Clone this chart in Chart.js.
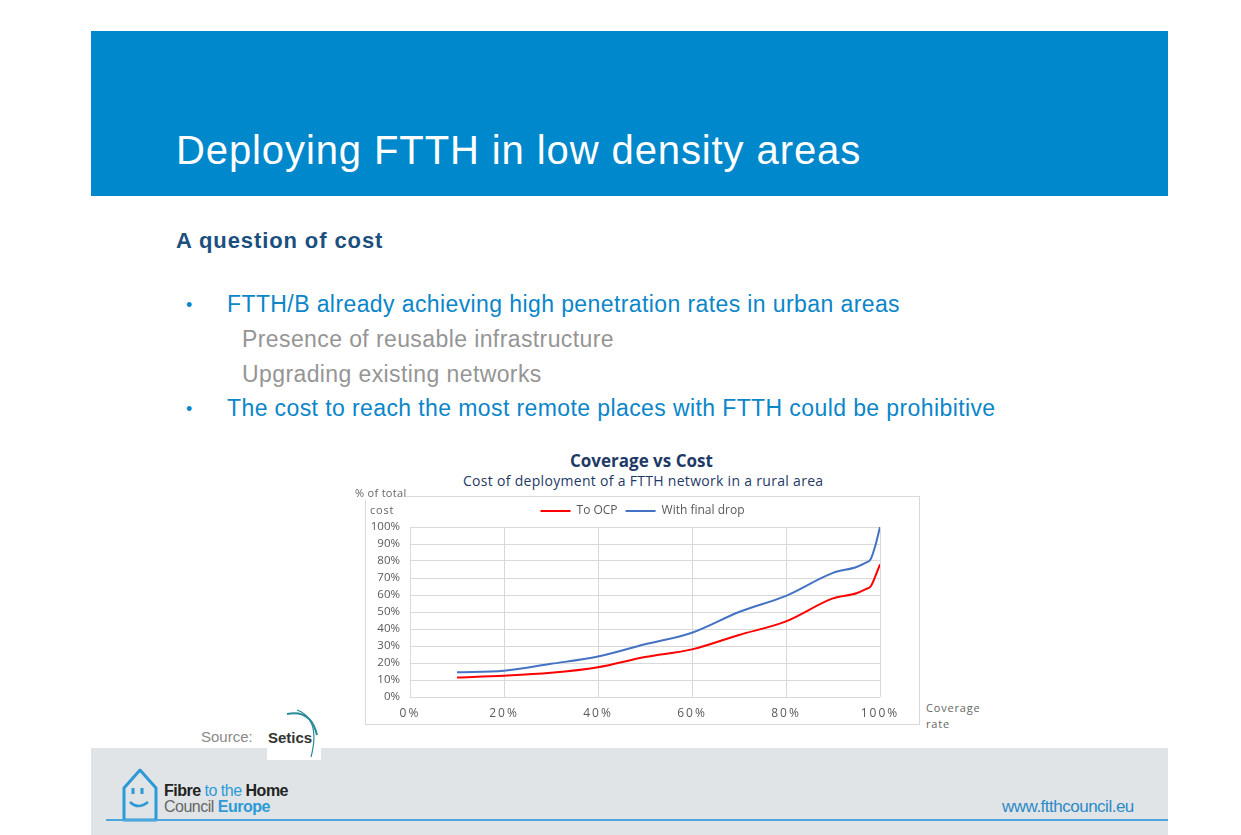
<!DOCTYPE html>
<html>
<head>
<meta charset="utf-8">
<script src="https://cdn.jsdelivr.net/npm/chart.js@4"></script>
<style>
  body { margin: 0; width: 1241px; height: 835px; background: #fff; position: relative; overflow: hidden; font-family: "Liberation Sans", Arial, sans-serif; }
  .abs { position: absolute; white-space: nowrap; }
  #header { left: 91px; top: 31px; width: 1077px; height: 165px; background: #0088cc; }
  #title { left: 176px; top: 128px; font-size: 40px; letter-spacing: 0.9px; color: #fff; }
  #sub { left: 176px; top: 228px; font-size: 22px; letter-spacing: 0.9px; font-weight: bold; color: #1b4f7e; }
  .b1 { font-size: 23px; letter-spacing: 0.4px; color: #0a86c9; }
  .b2 { font-size: 23px; letter-spacing: 0.4px; color: #959595; }
  .dot { font-size: 18px; color: #0a86c9; }
  .ct { font-family: "Open Sans", sans-serif; color: #1f3a66; }
  .ax { font-family: "Open Sans", sans-serif; font-size: 11px; color: #666; letter-spacing: 0.8px; }
  #frame { left: 365px; top: 496px; width: 553px; height: 227px; border: 1px solid #d9d9d9; }
  #wrap { left: 366px; top: 497px; width: 553px; height: 226px; }
  #footer { left: 91px; top: 748px; width: 1077px; height: 87px; background: #e1e4e7; }
</style>
</head>
<body>
<div id="header" class="abs"></div>
<div id="title" class="abs">Deploying FTTH in low density areas</div>
<div id="sub" class="abs">A question of cost</div>

<div class="abs dot" style="left:186px;top:295px">•</div>
<div class="abs b1" style="left:227px;top:291px">FTTH/B already achieving high penetration rates in urban areas</div>
<div class="abs b2" style="left:242px;top:326px">Presence of reusable infrastructure</div>
<div class="abs b2" style="left:242px;top:361px">Upgrading existing networks</div>
<div class="abs dot" style="left:186px;top:399px">•</div>
<div class="abs b1" style="left:227px;top:395px">The cost to reach the most remote places with FTTH could be prohibitive</div>

<div class="abs ct" style="left:570px;top:449px;font-size:17px;font-weight:bold">Coverage vs Cost</div>
<div class="abs ct" style="left:463px;top:471px;font-size:14px;letter-spacing:0.3px">Cost of deployment of a FTTH network in a rural area</div>

<div id="frame" class="abs"></div>
<div id="wrap" class="abs"><canvas id="chart"></canvas></div>
<div class="abs ax" style="left:355px;top:485px;background:#fff;letter-spacing:0.3px">% of total</div>
<div class="abs ax" style="left:370px;top:502px">cost</div>
<div class="abs ax" style="left:926px;top:700px">Coverage</div>
<div class="abs ax" style="left:926px;top:716px">rate</div>

<div id="footer" class="abs"></div>
<div class="abs" style="left:201px;top:728px;font-size:15px;color:#8a8a8a">Source:</div>
<div class="abs" style="left:267px;top:705px;width:54px;height:55px;background:#fff"></div>
<svg class="abs" style="left:267px;top:705px" width="54" height="55">
  <path d="M20 9 Q44 4 50 30" stroke="#2a8a9a" stroke-width="2" fill="none"/>
  <path d="M30 5 Q54 14 44 52" stroke="#2a8a9a" stroke-width="1.2" fill="none"/>
  <text x="1" y="38" font-family="Liberation Sans, Arial" font-weight="bold" font-size="15" fill="#333">Setics</text>
</svg>

<svg class="abs" style="left:118px;top:764px" width="50" height="60">
  <path d="M6 56 L6 24 L22 6 L38 24 L38 56 Z" stroke="#2c9ad6" stroke-width="3" fill="none" stroke-linejoin="round"/>
  <path d="M15 24 L15 30 M24 24 L24 30" stroke="#2c9ad6" stroke-width="3"/>
  <path d="M12 38 Q20 46 30 38" stroke="#2c9ad6" stroke-width="2.5" fill="none"/>
</svg>
<div class="abs" style="left:164px;top:782px;font-size:16px;letter-spacing:-0.5px"><b style="color:#222">Fibre</b><span style="color:#2c9ad6"> to the </span><b style="color:#222">Home</b></div>
<div class="abs" style="left:164px;top:798px;font-size:16px;letter-spacing:-0.5px"><span style="color:#666">Council </span><b style="color:#2c9ad6">Europe</b></div>
<div class="abs" style="left:1002px;top:797px;font-size:17px;color:#2c8ac6;letter-spacing:-0.5px">www.ftthcouncil.eu</div>
<div class="abs" style="left:106px;top:819px;width:1062px;height:2px;background:#4aa6dc"></div>

<script>
// coverage rate (%) and share of total cost (%)
const coverage = [10, 20, 30, 40, 50, 60, 70, 80, 90, 95, 97, 98, 99, 100];
const toOcp = [11.5, 12.5, 14.2, 17.5, 23.5, 28, 36.5, 44.5, 58, 61, 63.5, 65, 71, 78];
const withDrop = [14.5, 15.5, 19.5, 23.8, 31, 37.8, 50, 59.5, 73, 76.5, 79, 81, 89, 100];
const xTicks = [0, 20, 40, 60, 80, 100];

const pts = (ys) => coverage.map((x, i) => ({ x: x, y: ys[i] }));

const canvas = document.getElementById("chart");
new Chart(canvas, {
  type: "line",
  data: {
    datasets: [
      { label: "To OCP", data: pts(toOcp), borderColor: "#ff0000", backgroundColor: "#ff0000", borderWidth: 2, pointRadius: 0, cubicInterpolationMode: "monotone" },
      { label: "With final drop", data: pts(withDrop), borderColor: "#4472c4", backgroundColor: "#4472c4", borderWidth: 2, pointRadius: 0, cubicInterpolationMode: "monotone" },
    ],
  },
  plugins: [{
    id: "tweaks",
    beforeInit(chart) {
      //fixed legend height so the plot area starts where it should
      const fit = chart.legend.fit;
      chart.legend.fit = function () { fit.bind(chart.legend)(); this.height = 30; };
    },
    afterUpdate(chart) {
      //spaced out x tick labels
      const xs = chart.scales.x;
      if (!xs._spaced) {
        const draw = xs.drawLabels;
        xs.drawLabels = function (area) {
          chart.ctx.save();
          chart.ctx.letterSpacing = "2px";
          draw.call(this, area);
          chart.ctx.restore();
        };
        xs._spaced = true;
      }
    },
  }],
  options: {
    responsive: true,
    maintainAspectRatio: false,
    animation: false,
    layout: { padding: 0 },
    plugins: {
      tooltip: { enabled: false },
      legend: {
        labels: {
          usePointStyle: true, pointStyle: "line", pointStyleWidth: 30, boxHeight: 2,
          padding: 8, color: "#595959", font: { family: "Open Sans", size: 12 },
        },
      },
    },
    scales: {
      x: {
        type: "linear", min: 0, max: 100,
        afterBuildTicks: (s) => { s.ticks = xTicks.map((v) => ({ value: v })); },
        afterFit: (s) => { s.height = 26; },
        grid: { color: "#d9d9d9", drawTicks: false },
        border: { display: false },
        ticks: { padding: 9, color: "#595959", font: { family: "Open Sans", size: 12 }, callback: (v) => v + "%" },
      },
      y: {
        min: 0, max: 100,
        afterFit: (s) => { s.width = 44; },
        grid: { color: "#d9d9d9", drawTicks: false },
        border: { display: false },
        ticks: { stepSize: 10, autoSkip: false, padding: 10, color: "#595959", font: { family: "Open Sans", size: 11.5 }, callback: (v) => v + "%" },
      },
      //empty right-hand spacer so the legend stays centred on the whole box
      spacer: {
        position: "right", min: 0, max: 100,
        afterFit: (s) => { s.width = 39; },
        grid: { display: false },
        border: { display: false },
        ticks: { display: false },
      },
    },
  },
});
</script>
</body>
</html>
